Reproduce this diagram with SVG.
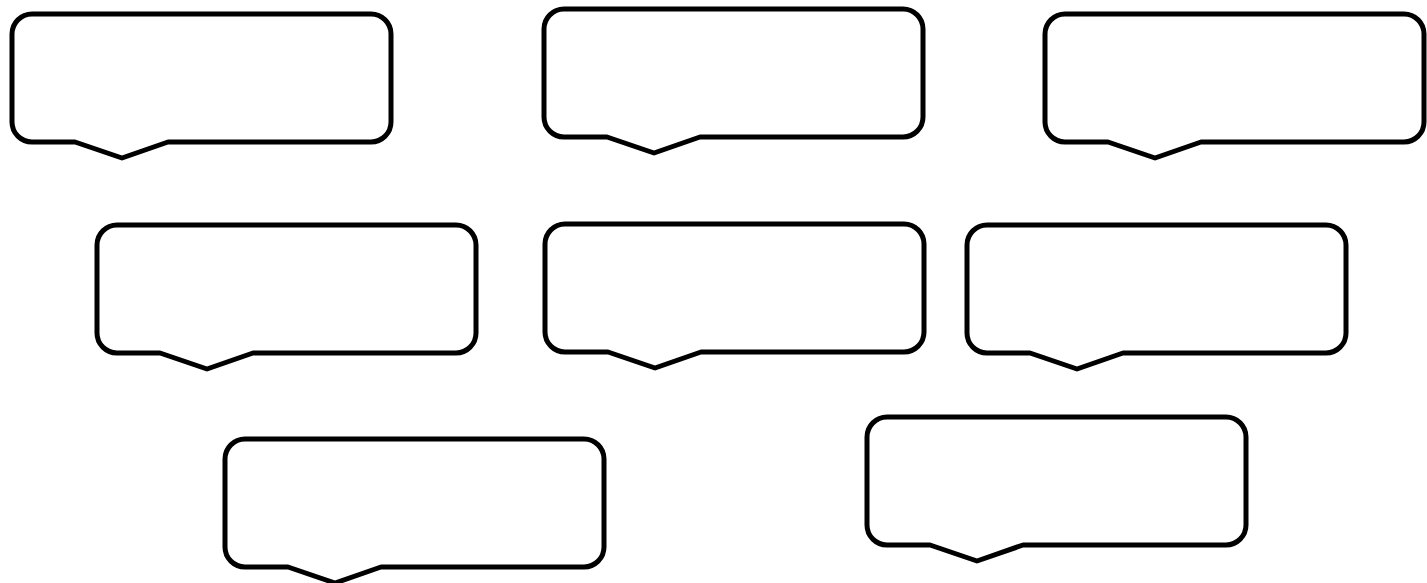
<svg xmlns="http://www.w3.org/2000/svg" width="1427" height="583" viewBox="0 0 1427 583">
<style>
.callout{fill:#fff;stroke:#000;stroke-width:5;stroke-linejoin:round}
</style>
<defs>
<path id="shape" class="callout" d="M20,0 H359 A20,20 0 0 1 379,20 V108 A20,20 0 0 1 359,128 H156 L110,144 L63,128 H20 A20,20 0 0 1 0,108 V20 A20,20 0 0 1 20,0 Z"/>
</defs>
<rect width="1427" height="583" fill="#fff"/>
<g id="node1" transform="translate(12,14)"><use href="#shape"/></g>
<g id="node2" transform="translate(544,9)"><use href="#shape"/></g>
<g id="node3" transform="translate(1045,14)"><use href="#shape"/></g>
<g id="node4" transform="translate(97,225)"><use href="#shape"/></g>
<g id="node5" transform="translate(545,224)"><use href="#shape"/></g>
<g id="node6" transform="translate(967,225)"><use href="#shape"/></g>
<g id="node7" transform="translate(225,439)"><use href="#shape"/></g>
<g id="node8" transform="translate(867,417)"><use href="#shape"/></g>
<g id="connectors"></g>
</svg>
